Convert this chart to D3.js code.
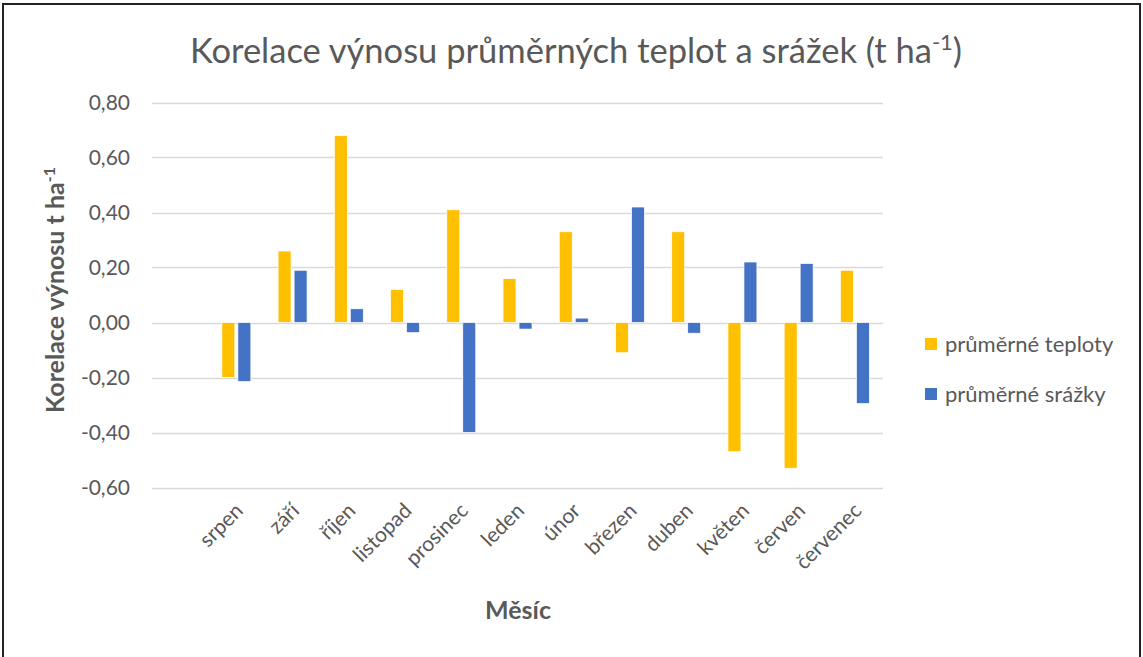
<!DOCTYPE html>
<html>
<head>
<meta charset="utf-8">
<script src="https://cdn.jsdelivr.net/npm/d3@7"></script>
<style>
  body { margin: 0; background: #fff; }
  text { font-family: Lato, "Open Sans", sans-serif; fill: #595959; }
</style>
</head>
<body>
<div id="chart"></div>
<script>
// data
var months = ["srpen", "září", "říjen", "listopad", "prosinec", "leden", "únor", "březen", "duben", "květen", "červen", "červenec"];
var teploty = [-0.20, 0.26, 0.68, 0.12, 0.41, 0.16, 0.33, -0.11, 0.33, -0.47, -0.53, 0.19];
var srazky = [-0.215, 0.19, 0.05, -0.037, -0.40, -0.024, 0.016, 0.42, -0.039, 0.22, 0.215, -0.295];
var yTicks = [-0.6, -0.4, -0.2, 0, 0.2, 0.4, 0.6, 0.8];
var seriesNames = ["průměrné teploty", "průměrné srážky"];
var colors = ["#FFC000", "#4472C4"];

var W = 1143, H = 657;
var svg = d3.select("#chart").append("svg").attr("width", W).attr("height", H);

// ramecek
svg.append("rect").attr("x", 3).attr("y", 4).attr("width", 1137).attr("height", 680)
  .attr("fill", "none").attr("stroke", "#222").attr("stroke-width", 2);

var gridLeft = 152, plotRight = 883;
// prvni kategorie je v excelu prazdna, proto pasmo zacina o jeden krok dal
var step = (plotRight - gridLeft) / (months.length + 1);

var x = d3.scaleBand().domain(months).range([gridLeft + step, plotRight]);
var y = d3.scaleLinear().domain([-0.6, 0.8]).range([487.5, 102.5]);

// mrizka
svg.append("g").selectAll("line").data(yTicks).enter().append("line")
  .attr("x1", gridLeft).attr("x2", plotRight)
  .attr("y1", function(d) { return Math.round(y(d)) + 0.5; })
  .attr("y2", function(d) { return Math.round(y(d)) + 0.5; })
  .attr("stroke", "#D9D9D9").attr("stroke-width", 1.5);

// osa y
var yAxis = svg.append("g").attr("transform", "translate(130,0)")
  .call(d3.axisLeft(y).tickValues(yTicks).tickSize(0).tickPadding(0)
    .tickFormat(function(d) { return d3.format(".2f")(d).replace(".", ",").replace("−", "-"); }));
yAxis.select(".domain").remove();
yAxis.selectAll("text").style("font-size", "21px").style("fill", "#595959")
  .style("font-family", "Lato, 'Open Sans', sans-serif");

// sloupce
var bw = 13, gap = 3;
var series = [teploty, srazky];
series.forEach(function(vals, s) {
  svg.append("g").selectAll("rect").data(vals).enter().append("rect")
    .attr("x", function(d, i) { return x(months[i]) + x.bandwidth() / 2 + (s === 0 ? -bw - gap / 2 : gap / 2); })
    .attr("y", function(d) { return y(Math.max(0, d)); })
    .attr("width", bw)
    .attr("height", function(d) { return Math.abs(y(d) - y(0)); })
    .attr("fill", colors[s])
    .attr("stroke", "#fff").attr("stroke-width", 0.75);
});

// popisky osy x
svg.append("g").selectAll("text").data(months).enter().append("text")
  .attr("transform", function(d) { return "translate(" + (x(d) + x.bandwidth() / 2 + 8) + ",512) rotate(-45)"; })
  .attr("text-anchor", "end")
  .style("font-size", "21px")
  .text(function(d) { return d; });

// nazev
var title = svg.append("text").attr("x", 576).attr("y", 63).attr("text-anchor", "middle")
  .style("font-size", "34.5px");
title.append("tspan").text("Korelace výnosu průměrných teplot a srážek (t ha");
title.append("tspan").attr("dy", -13).style("font-size", "22px").text("-1");
title.append("tspan").attr("dy", 13).text(")");

// nazev osy y
var yl = svg.append("text").attr("transform", "translate(64,290) rotate(-90)")
  .attr("text-anchor", "middle").style("font-size", "25px").style("font-weight", "bold");
yl.append("tspan").text("Korelace výnosu t ha");
yl.append("tspan").attr("dy", -9).style("font-size", "16px").text("-1");

// nazev osy x
svg.append("text").attr("x", 518).attr("y", 619).attr("text-anchor", "middle")
  .style("font-size", "25px").style("font-weight", "bold").text("Měsíc");

// legenda
var leg = svg.append("g").selectAll("g").data(seriesNames).enter().append("g")
  .attr("transform", function(d, i) { return "translate(925," + (338 + i * 50) + ")"; });
leg.append("rect").attr("width", 12).attr("height", 12)
  .attr("fill", function(d, i) { return colors[i]; });
leg.append("text").attr("x", 20).attr("y", 14).style("font-size", "22px")
  .text(function(d) { return d; });
</script>
</body>
</html>
